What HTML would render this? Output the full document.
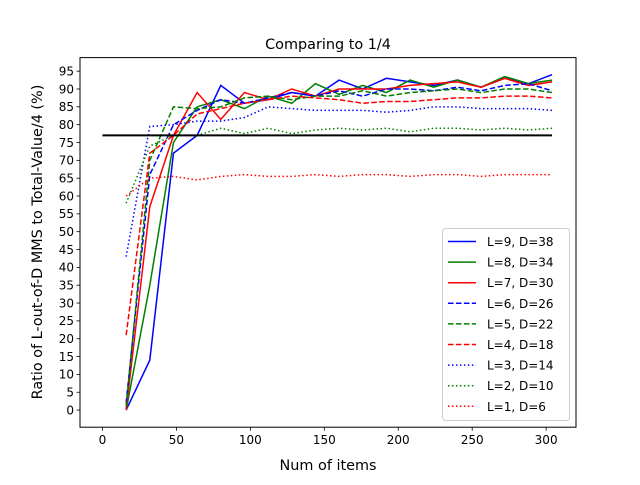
<!DOCTYPE html>
<html><head><meta charset="utf-8"><style>
body{margin:0;background:#fff}
svg text{font-family:"DejaVu Sans","Liberation Sans",sans-serif;fill:#000}
</style></head><body>
<svg id="chart" width="640" height="480" xmlns="http://www.w3.org/2000/svg">
<rect width="640" height="480" fill="#fff"/>
<text x="328" y="49" font-size="14.4" text-anchor="middle">Comparing to 1/4</text>
<g id="plot"></g>
<g id="axes"></g>
<text x="328" y="470" font-size="14.4" text-anchor="middle">Num of items</text>
<text transform="translate(42,242) rotate(-90)" font-size="14.4" text-anchor="middle">Ratio of L-out-of-D MMS to Total-Value/4 (%)</text>
<g id="legend"></g>
</svg>
<script>
const xs=[16,32,48,64,80,96,112,128,144,160,176,192,208,224,240,256,272,288,304];
const s9=[0,14,72,77,91,86,87,89,88,92.5,90,93,92,91,92.5,90.5,93,91.5,94];
const s8=[0,35,75,85,87,84.5,88,86,91.5,88.5,91,89,92.5,90.5,92.5,90.5,93.5,91.5,92.5];
const s7=[0,57,77,89,81.5,89,87,90,88,90,90,90,91,91.5,92,90.5,93,91,92];
const s6=[2,66,80,84,87,86,87.5,89,88,89.5,88,90,90,89.5,90.5,89.5,91,91.5,89.5];
const s5=[1,70,85,84.5,85,87.5,88,87,88,88,89.5,88,89,89.5,90,89,90,90,89];
const s4=[21,72,77,83,84.5,86,87,88,87.5,87,86,86.5,86.5,87,87.5,87.5,88,88,87.5];
const s3=[43,79.5,80,81,81,82,85,84.5,84,84,84,83.5,84,85,85,84.5,84.5,84.5,84];
const s2=[58,74,77,77,79,77.5,79,77.5,78.5,79,78.5,79,78,79,79,78.5,79,78.5,79];
const s1=[60,65,65.5,64.5,65.5,66,65.5,65.5,66,65.5,66,66,65.5,66,66,65.5,66,66,66];
const refX=[0,304];
const refY=[77,77];
const xTicks=[0,50,100,150,200,250,300];
const yTicks=[0,5,10,15,20,25,30,35,40,45,50,55,60,65,70,75,80,85,90,95];
const labels=["L=9, D=38","L=8, D=34","L=7, D=30","L=6, D=26","L=5, D=22","L=4, D=18","L=3, D=14","L=2, D=10","L=1, D=6"];
const NS="http://www.w3.org/2000/svg";
const L=80,R=576,T=57.6,B=427.2;
const xmin=-15.2,xmax=320.2,ymin=-4.8,ymax=98.8;
const X=v=>L+(v-xmin)/(xmax-xmin)*(R-L);
const Y=v=>B-(v-ymin)/(ymax-ymin)*(B-T);
function mk(t,a,p){const e=document.createElementNS(NS,t);for(const k in a)e.setAttribute(k,a[k]);p.appendChild(e);return e;}
const plot=document.getElementById('plot'),axes=document.getElementById('axes'),leg=document.getElementById('legend');
const DASH="5.55,2.4",DOT="1.5,2.475";
const series=[[s9,'#0000ff',''],[s8,'#008000',''],[s7,'#ff0000',''],[s6,'#0000ff',DASH],[s5,'#008000',DASH],[s4,'#ff0000',DASH],[s3,'#0000ff',DOT],[s2,'#008000',DOT],[s1,'#ff0000',DOT]];
series.forEach((s,i)=>{
 const p=mk('polyline',{points:xs.map((x,j)=>X(x)+','+Y(s[0][j])).join(' '),fill:'none',stroke:s[1],'stroke-width':1.5,'stroke-dasharray':s[2]||'none'},plot);
 
 
});
const rl=mk('polyline',{points:refX.map((x,j)=>X(x)+','+Y(refY[j])).join(' '),fill:'none',stroke:'#000','stroke-width':2},plot);


const fr=mk('rect',{x:L,y:T,width:R-L,height:B-T,fill:'none',stroke:'#000','stroke-width':1},axes);


xTicks.forEach(t=>{
 mk('line',{x1:X(t),x2:X(t),y1:B,y2:B+3.5,stroke:'#000','stroke-width':0.8},axes);
 const tx=mk('text',{x:X(t),y:B+17,'font-size':12,'text-anchor':'middle'},axes);tx.textContent=t;
 
 
});
yTicks.forEach(t=>{
 mk('line',{x1:L-3.5,x2:L,y1:Y(t),y2:Y(t),stroke:'#000','stroke-width':0.8},axes);
 const tx=mk('text',{x:L-6,y:Y(t)+4.3,'font-size':12,'text-anchor':'end'},axes);tx.textContent=t;
 
 
});
const lb=mk('rect',{x:442.5,y:228.5,width:127,height:192,rx:3,fill:'#fff','fill-opacity':0.8,stroke:'#ccc','stroke-width':1},leg);


series.forEach((s,i)=>{
 const y=241.5+i*20.6;
 const g=mk('g',{},leg);
 
 
 mk('line',{x1:448,x2:476,y1:y,y2:y,stroke:s[1],'stroke-width':1.5,'stroke-dasharray':s[2]||'none'},g);
 const t=mk('text',{x:487,y:y+4.5,'font-size':12},g);t.textContent=labels[i];
});
</script>
</body></html>
